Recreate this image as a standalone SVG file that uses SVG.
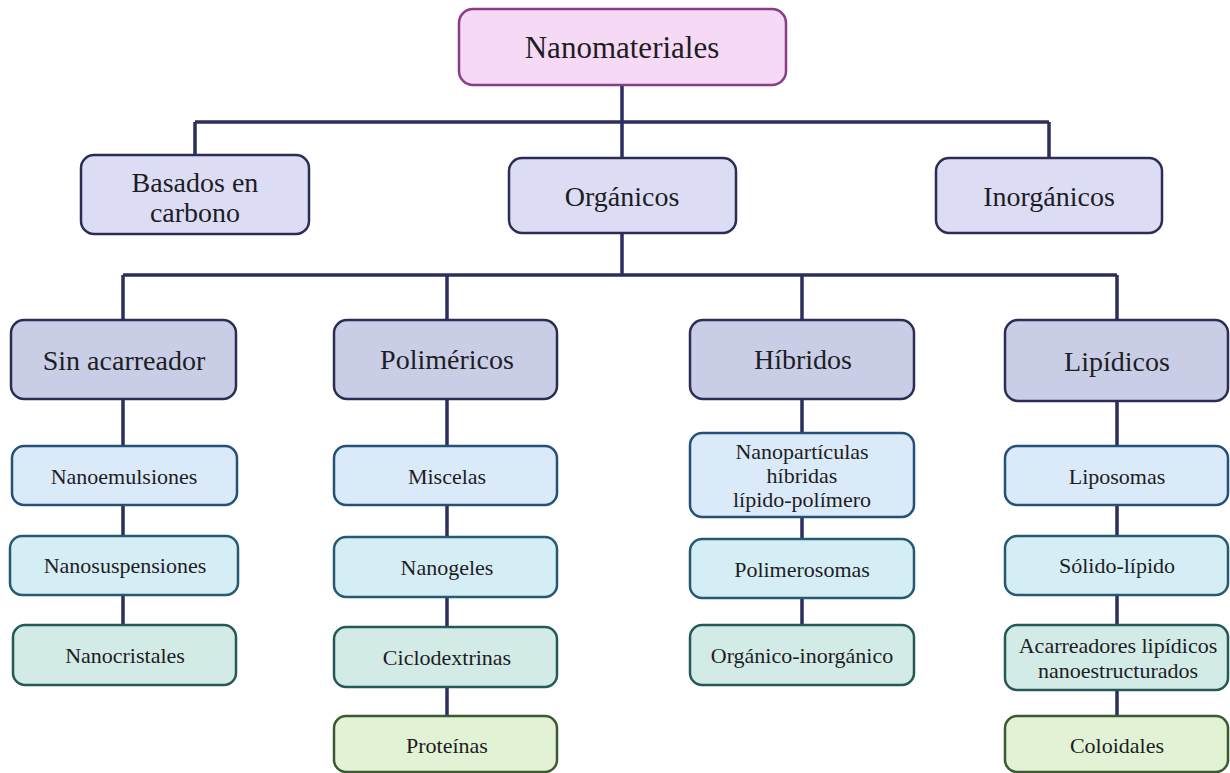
<svg xmlns="http://www.w3.org/2000/svg" width="1230" height="773" viewBox="0 0 1230 773">
<style>
text{font-family:"Liberation Serif","Times New Roman",serif;fill:#1d1d24;text-anchor:middle;dominant-baseline:central}
.t1{font-size:31px}
.t2{font-size:28px}
.t3{font-size:28px}
.t4{font-size:22px}
.conn{stroke:#2b2e5e;stroke-width:3.5;fill:none}
.root{fill:#f6d9f5;stroke:#8a3d87;stroke-width:2.5}
.l2{fill:#dcdcf4;stroke:#2c2d55;stroke-width:2.5}
.l3{fill:#c9cee6;stroke:#2c2d55;stroke-width:2.5}
.lb{fill:#daeaf8;stroke:#24507a;stroke-width:2.5}
.lc{fill:#d5eef5;stroke:#255a72;stroke-width:2.5}
.lt{fill:#d3ebe7;stroke:#245a55;stroke-width:2.5}
.lg{fill:#e1f2d5;stroke:#3b5a33;stroke-width:2.5}
</style>
<rect width="1230" height="773" fill="#ffffff"/>
<g id="connectors">
<path class="conn" d="M622 85V122M195 122H1049M195 122V155M622 122V158M1049 122V158"/>
<path class="conn" d="M622 233V275M123 275H1117M123 275V320M447 275V320M802 275V320M1117 275V320"/>
<path class="conn" d="M123 399V625M447 399V716M802 399V625M1117 401V716"/>
</g>
<g id="n-nanomateriales"><rect class="root" x="459" y="9" width="327" height="76" rx="14"/><text class="t1" x="622" y="47">Nanomateriales</text></g>
<g id="n-basados"><rect class="l2" x="81" y="155" width="228" height="79" rx="13"/><text class="t2" x="195" y="182">Basados en</text><text class="t2" x="195" y="212">carbono</text></g>
<g id="n-organicos"><rect class="l2" x="509" y="158" width="227" height="75" rx="13"/><text class="t2" x="622" y="196">Orgánicos</text></g>
<g id="n-inorganicos"><rect class="l2" x="936" y="158" width="226" height="75" rx="13"/><text class="t2" x="1049" y="196">Inorgánicos</text></g>
<g id="n-sin"><rect class="l3" x="11" y="320" width="225" height="79" rx="13"/><text class="t3" x="124" y="360">Sin acarreador</text></g>
<g id="n-polimericos"><rect class="l3" x="334" y="320" width="223" height="79" rx="13"/><text class="t3" x="447" y="359">Poliméricos</text></g>
<g id="n-hibridos"><rect class="l3" x="690" y="320" width="224" height="79" rx="13"/><text class="t3" x="803" y="359">Híbridos</text></g>
<g id="n-lipidicos"><rect class="l3" x="1005" y="320" width="223" height="81" rx="13"/><text class="t3" x="1117" y="361">Lipídicos</text></g>
<g id="n-nanoemulsiones"><rect class="lb" x="12" y="446" width="225" height="59" rx="12"/><text class="t4" x="124" y="476">Nanoemulsiones</text></g>
<g id="n-nanosuspensiones"><rect class="lc" x="10" y="536" width="228" height="59" rx="12"/><text class="t4" x="125" y="565">Nanosuspensiones</text></g>
<g id="n-nanocristales"><rect class="lt" x="13" y="625" width="223" height="60" rx="12"/><text class="t4" x="125" y="655">Nanocristales</text></g>
<g id="n-miscelas"><rect class="lb" x="334" y="446" width="223" height="59" rx="12"/><text class="t4" x="447" y="476">Miscelas</text></g>
<g id="n-nanogeles"><rect class="lc" x="334" y="537" width="223" height="60" rx="12"/><text class="t4" x="447" y="567">Nanogeles</text></g>
<g id="n-ciclodextrinas"><rect class="lt" x="334" y="627" width="223" height="60" rx="12"/><text class="t4" x="447" y="657">Ciclodextrinas</text></g>
<g id="n-proteinas"><rect class="lg" x="334" y="716" width="223" height="56" rx="12"/><text class="t4" x="447" y="745">Proteínas</text></g>
<g id="n-nanoparticulas"><rect class="lb" x="690" y="433" width="224" height="84" rx="12"/><text class="t4" x="802" y="451">Nanopartículas</text><text class="t4" x="802" y="475">híbridas</text><text class="t4" x="802" y="499">lípido-polímero</text></g>
<g id="n-polimerosomas"><rect class="lc" x="690" y="539" width="224" height="59" rx="12"/><text class="t4" x="802" y="569">Polimerosomas</text></g>
<g id="n-organico-inorganico"><rect class="lt" x="690" y="625" width="224" height="60" rx="12"/><text class="t4" x="802" y="655">Orgánico-inorgánico</text></g>
<g id="n-liposomas"><rect class="lb" x="1005" y="446" width="223" height="59" rx="12"/><text class="t4" x="1117" y="476">Liposomas</text></g>
<g id="n-solido"><rect class="lc" x="1005" y="536" width="223" height="59" rx="12"/><text class="t4" x="1117" y="565">Sólido-lípido</text></g>
<g id="n-acarreadores"><rect class="lt" x="1005" y="625" width="223" height="65" rx="12"/><text class="t4" x="1118" y="645">Acarreadores lipídicos</text><text class="t4" x="1118" y="670">nanoestructurados</text></g>
<g id="n-coloidales"><rect class="lg" x="1005" y="716" width="223" height="56" rx="12"/><text class="t4" x="1117" y="745">Coloidales</text></g>
</svg>
